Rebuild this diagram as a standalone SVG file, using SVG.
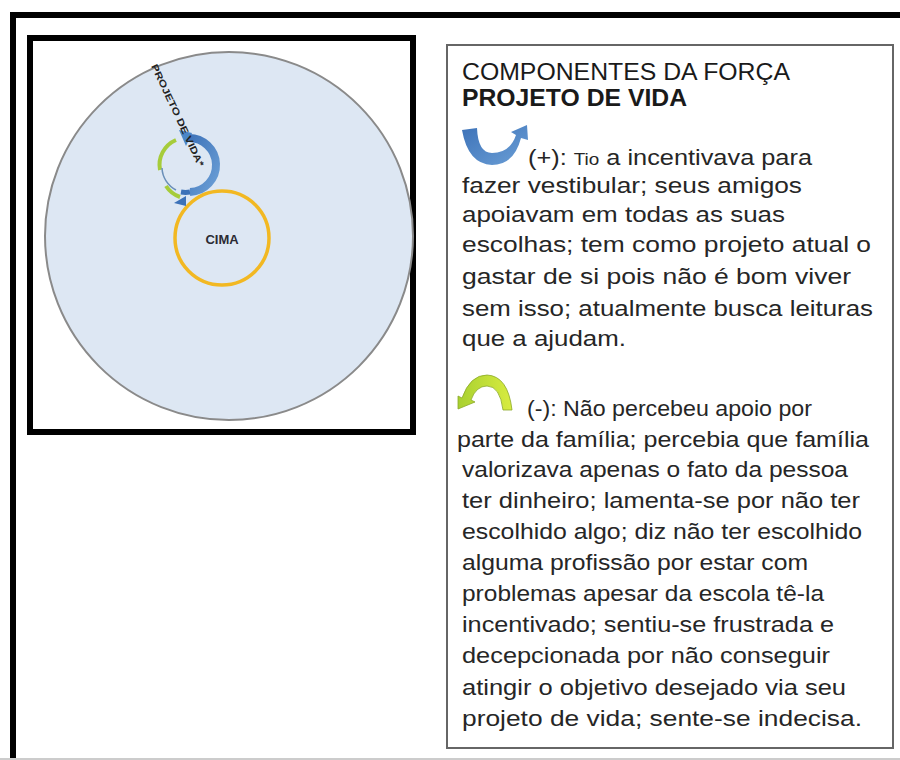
<svg xmlns="http://www.w3.org/2000/svg" width="900" height="760" viewBox="0 0 900 760">
<style>
.t{font-family:"Liberation Sans",Arial,sans-serif;font-size:21.5px;fill:#262626}
.h{font-family:"Liberation Sans",Arial,sans-serif;font-size:23px;fill:#1a1a1a}
.b{font-weight:bold}
</style>
<defs>
<linearGradient id="blueG" x1="0" y1="0" x2="1" y2="1">
<stop offset="0" stop-color="#3d72b8"/><stop offset="1" stop-color="#6b9fd6"/>
</linearGradient>
<linearGradient id="greenG" x1="0" y1="0" x2="1" y2="0">
<stop offset="0" stop-color="#a8d030"/><stop offset="1" stop-color="#d8ec40"/>
</linearGradient>
</defs>
<rect width="900" height="760" fill="#fff"/>
<g id="frame">
<rect x="13" y="15" width="900" height="760" fill="none" stroke="#000" stroke-width="6"/>
<line x1="0" y1="759" x2="900" y2="759" stroke="#ccc" stroke-width="2"/>
</g>
<g id="diagram-box">
<rect x="30" y="38" width="383" height="394" fill="#fff" stroke="#000" stroke-width="6"/>
</g>
<g id="outer-circle">
<circle cx="229" cy="236" r="184" fill="#dde7f3" stroke="#8a8a8a" stroke-width="2"/>
</g>
<g id="cima">
<circle cx="222" cy="238" r="47" fill="none" stroke="#f2b822" stroke-width="3.5"/>
<text x="222" y="244" text-anchor="middle" font-family="Liberation Sans,Arial,sans-serif" font-size="13" font-weight="bold" fill="#2b2b33">CIMA</text>
</g>
<g id="projeto-vida">
<path d="M 160 170 A 27 27 0 0 1 176 140" fill="none" stroke="#a6cc3a" stroke-width="4"/>
<path d="M 166 186 A 27 27 0 0 0 180 197" fill="none" stroke="#a6cc3a" stroke-width="4"/>
<path d="M 188 138 A 27 27 0 0 1 190 192" fill="none" stroke="url(#blueG)" stroke-width="8"/>
<path d="M 190 192 A 27 27 0 0 1 181 192" fill="none" stroke="#3d72b8" stroke-width="5"/>
<polygon points="179,130 192,133 186,146" fill="#4a86c8"/>
<polygon points="174,203 186,196 186,206" fill="#3d72b8"/>
<path d="M 162 168 A 26 26 0 0 0 176 190" fill="none" stroke="#6a8fb8" stroke-width="1.5"/>
<text x="0" y="0" transform="translate(151,66) rotate(65)" font-family="Liberation Sans,Arial,sans-serif" font-size="9.5" font-weight="bold" fill="#222" textLength="112" lengthAdjust="spacingAndGlyphs">PROJETO DE VIDA*</text>
</g>
<g id="text-box">
<rect x="447" y="45" width="446" height="703" fill="#fff" stroke="#666" stroke-width="2"/>
<text class="h" x="462" y="80" textLength="328" lengthAdjust="spacingAndGlyphs">COMPONENTES DA FORÇA</text>
<text class="h b" x="462" y="106" textLength="225" lengthAdjust="spacingAndGlyphs">PROJETO DE VIDA</text>
</g>
<g id="icon-plus">
<path d="M 462 130 Q 468 164 492 165 Q 514 165 521 138 L 528 140 L 527 125 L 511 132 L 516 135 Q 510 153 492 153 Q 478 153 477 128 Z" fill="url(#blueG)"/>
</g>
<g id="text-plus">
<text class="t" x="528" y="165" textLength="284" lengthAdjust="spacingAndGlyphs">(+): <tspan font-size="16">Tio</tspan> a incentivava para</text>
<text class="t" x="462" y="193" textLength="340" lengthAdjust="spacingAndGlyphs">fazer vestibular; seus amigos</text>
<text class="t" x="462" y="222" textLength="323" lengthAdjust="spacingAndGlyphs">apoiavam em todas as suas</text>
<text class="t" x="462" y="252" textLength="409" lengthAdjust="spacingAndGlyphs">escolhas; tem como projeto atual o</text>
<text class="t" x="462" y="284" textLength="389" lengthAdjust="spacingAndGlyphs">gastar de si pois não é bom viver</text>
<text class="t" x="462" y="316" textLength="411" lengthAdjust="spacingAndGlyphs">sem isso; atualmente busca leituras</text>
<text class="t" x="462" y="346" textLength="164" lengthAdjust="spacingAndGlyphs">que a ajudam.</text>
</g>
<g id="icon-minus">
<path d="M 462 398 Q 470 375 487 375 Q 508 376 512 410 L 503 410 Q 500 386 487 386 Q 476 386 471 400 L 475 402 L 458 409 L 458 396 Z" fill="url(#greenG)" stroke="#8aa828" stroke-width="0.8"/>
</g>
<g id="text-minus">
<text class="t" x="527" y="416" textLength="285" lengthAdjust="spacingAndGlyphs">(-):  Não percebeu apoio por</text>
<text class="t" x="457" y="447" textLength="412" lengthAdjust="spacingAndGlyphs">parte da família; percebia  que família</text>
<text class="t" x="462" y="477" textLength="386" lengthAdjust="spacingAndGlyphs">valorizava apenas o fato da pessoa</text>
<text class="t" x="462" y="508" textLength="398" lengthAdjust="spacingAndGlyphs">ter dinheiro; lamenta-se por não ter</text>
<text class="t" x="462" y="539" textLength="400" lengthAdjust="spacingAndGlyphs">escolhido algo; diz não ter escolhido</text>
<text class="t" x="462" y="570" textLength="346" lengthAdjust="spacingAndGlyphs">alguma profissão por estar com</text>
<text class="t" x="462" y="601" textLength="362" lengthAdjust="spacingAndGlyphs">problemas apesar da escola tê-la</text>
<text class="t" x="462" y="632" textLength="372" lengthAdjust="spacingAndGlyphs">incentivado; sentiu-se frustrada e</text>
<text class="t" x="462" y="663" textLength="368" lengthAdjust="spacingAndGlyphs">decepcionada por não conseguir</text>
<text class="t" x="462" y="695" textLength="384" lengthAdjust="spacingAndGlyphs">atingir o objetivo desejado via seu</text>
<text class="t" x="462" y="726" textLength="400" lengthAdjust="spacingAndGlyphs">projeto de vida; sente-se indecisa.</text>
</g>
</svg>
